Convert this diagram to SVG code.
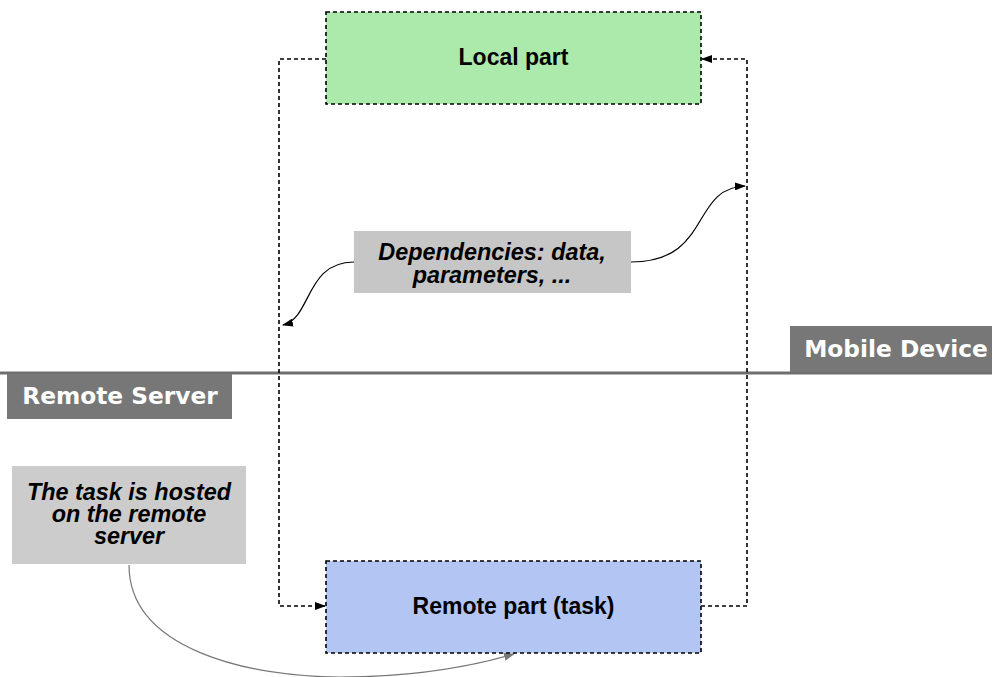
<svg xmlns="http://www.w3.org/2000/svg" width="992" height="677" viewBox="0 0 992 677">
<style>
.box{stroke:#000;stroke-width:1.6;stroke-dasharray:4,3}
.dash{fill:none;stroke:#000;stroke-width:1.6;stroke-dasharray:4,3}
.curve{fill:none;stroke:#000;stroke-width:1.2}
.gcurve{fill:none;stroke:#777;stroke-width:1.2}
.t{font-family:"Liberation Sans",Arial,sans-serif;font-weight:bold;font-size:23px;fill:#000;text-anchor:middle}
.it{font-family:"Liberation Sans",Arial,sans-serif;font-weight:bold;font-style:italic;font-size:23.4px;fill:#000;text-anchor:middle}
.lab{font-family:"DejaVu Sans",sans-serif;font-weight:bold;font-size:23.3px;fill:#fff;text-anchor:middle}
</style>
<defs>
<marker id="ah" markerWidth="11" markerHeight="8" refX="10" refY="4" orient="auto" markerUnits="userSpaceOnUse">
<path d="M0,0 L11,4 L0,8 Z" fill="#000"/>
</marker>
<marker id="ahg" markerWidth="11" markerHeight="8" refX="10" refY="4" orient="auto" markerUnits="userSpaceOnUse">
<path d="M0,0 L11,4 L0,8 Z" fill="#777"/>
</marker>
</defs>
<rect width="992" height="677" fill="#fff"/>
<line x1="0" y1="373" x2="992" y2="373" stroke="#6e6e6e" stroke-width="3"/>
<g id="connectors">
<path class="dash" d="M326,59 H279 V606 H325" marker-end="url(#ah)"/>
<path class="dash" d="M701,606 H747 V59 H702" marker-end="url(#ah)"/>
<path class="curve" d="M354,262 C305,262 312,318 283,325" marker-end="url(#ah)"/>
<path class="curve" d="M631,262 C712,262 690,188 745,186" marker-end="url(#ah)"/>
<path class="gcurve" d="M129,565 C129,650 250,677 340,677 C420,677 480,664 514,654" marker-end="url(#ahg)"/>
</g>
<g id="local">
<rect class="box" x="326" y="12" width="375" height="92" fill="#aceaac"/>
<text class="t" x="513.5" y="65">Local part</text>
</g>
<g id="remote">
<rect class="box" x="326" y="561" width="375" height="92" fill="#b3c5f3"/>
<text class="t" x="513.5" y="614">Remote part (task)</text>
</g>
<g id="deps">
<rect x="354" y="231" width="277" height="62" fill="#c6c6c6"/>
<text class="it" x="492" y="260">Dependencies: data,</text>
<text class="it" x="492" y="283">parameters, ...</text>
</g>
<g id="task">
<rect x="12" y="466" width="234" height="98" fill="#cccccc"/>
<text class="it" x="129" y="500">The task is hosted</text>
<text class="it" x="129" y="522">on the remote</text>
<text class="it" x="129" y="544">server</text>
</g>
<g id="mobile">
<rect x="790" y="326" width="202" height="46" fill="#777"/>
<text class="lab" x="896" y="357">Mobile Device</text>
</g>
<g id="server">
<rect x="7" y="374" width="225" height="45" fill="#777"/>
<text class="lab" x="120" y="404">Remote Server</text>
</g>
</svg>
